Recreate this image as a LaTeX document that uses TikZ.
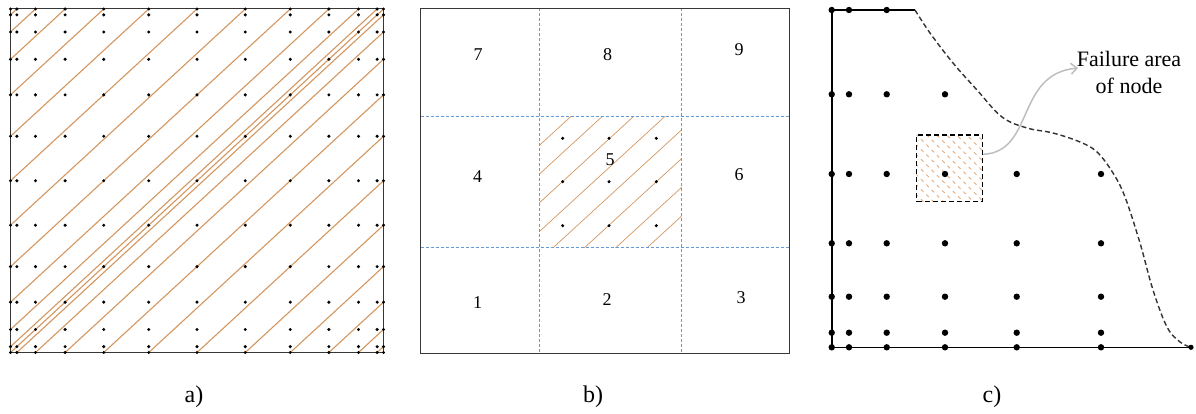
\documentclass[tikz,border=0pt]{standalone}
\usepackage{fontspec}
\setmainfont{Liberation Serif}
\usetikzlibrary{arrows.meta}
\definecolor{hatchc}{RGB}{212,150,95}
\definecolor{hatchlight}{RGB}{228,172,125}
\definecolor{gridblue}{RGB}{100,155,215}
\definecolor{boxgray}{RGB}{55,55,55}
\definecolor{curvegray}{RGB}{50,50,50}
\definecolor{arrowgray}{RGB}{190,190,190}
\begin{document}
\begin{tikzpicture}[x=1pt,y=-1pt,
  frame/.style={draw=boxgray,line width=1pt},
  hatchline/.style={draw=hatchc,line width=1.1pt},
  hatchthin/.style={draw=hatchc,line width=0.7pt},
  hatchdash/.style={draw=hatchlight,line width=0.9pt,dash pattern=on 3.5pt off 4pt},
  bluedash/.style={draw=gridblue,line width=0.8pt,dash pattern=on 3pt off 2pt},
  axisline/.style={draw=black,line width=1.6pt},
  failcurve/.style={draw=curvegray,line width=1.4pt,dash pattern=on 5pt off 3pt},
  numlabel/.style={font=\fontsize{18}{20}\selectfont,inner sep=0pt},
  caplabel/.style={font=\fontsize{24}{28}\selectfont,inner sep=0pt},
  dotsmall/.style={fill=black},
  pointer/.style={draw=arrowgray,line width=1.5pt,-{Straight Barb[length=6pt,width=11pt]}}]
\useasboundingbox (0,0) rectangle (1196,414);

% ---------------- panel a ----------------
\def\ax{10.5}\def\ay{9}\def\aw{373}\def\ah{343.5}
\foreach \k in {1,...,12}{
  \pgfmathsetmacro\u{(1-cos(\k*15))/2}
  \draw[hatchline] ({\ax+\aw*\u},\ay) -- (\ax,{\ay+\ah*\u});
}
\foreach \k in {1,...,11}{
  \pgfmathsetmacro\u{(1-cos(\k*15))/2}
  \draw[hatchline] ({\ax+\aw},{\ay+\ah*\u}) -- ({\ax+\aw*\u},{\ay+\ah});
}
\draw[frame] (\ax,\ay) rectangle ++(\aw,\ah);
\foreach \i in {0,...,12}{
  \foreach \j in {0,...,12}{
    \fill[dotsmall] ({\ax+\aw*(1-cos(\i*15))/2},{\ay+\ah*(1-cos(\j*15))/2}) circle (1.7);
  }
}
\node[caplabel] (capa) at (194,397) {a)};

% ---------------- panel b ----------------
\begin{scope}
  \clip (539.3,116.7) rectangle (681.7,247.3);
  \foreach \c in {1,...,8}{
    \pgfmathsetmacro\cc{0.22*\c}
    \draw[hatchthin] ({539.3+142.4*(\cc+1)},{116.7-130.6}) -- ({539.3-142.4},{116.7+130.6*(\cc+1)});
  }
\end{scope}
\draw[bluedash] (539.3,8.5) -- (539.3,353);
\draw[bluedash] (681.7,8.5) -- (681.7,353);
\draw[bluedash] (420.5,116.7) -- (789,116.7);
\draw[bluedash] (420.5,247.3) -- (789,247.3);
\draw[frame] (420.5,8.5) rectangle (789,353);
\foreach \x in {562.7,609,656.3}{
  \foreach \y in {138.3,181.7,225.7}{
    \fill[dotsmall] (\x,\y) circle (1.7);
  }
}
\node[numlabel] (n7) at (478,55) {7};
\node[numlabel] (n8) at (607.7,55) {8};
\node[numlabel] (n9) at (739,50) {9};
\node[numlabel] (n4) at (477.7,176.7) {4};
\node[numlabel] (n5) at (610,160) {5};
\node[numlabel] (n6) at (739,175) {6};
\node[numlabel] (n1) at (477.7,303) {1};
\node[numlabel] (n2) at (607,300) {2};
\node[numlabel] (n3) at (741,298) {3};
\node[caplabel] (capb) at (593,397) {b)};

% ---------------- panel c ----------------
\begin{scope}
  \clip (916.7,135) rectangle (982.3,201.7);
  \foreach \d in {-9,...,9}{
    \draw[hatchdash] (846.7,{135+10*\d-70}) -- (1056.7,{135+10*\d+140});
  }
\end{scope}
\node[draw=black,line width=1.4pt,dash pattern=on 5pt off 3pt,minimum width=65.6pt,minimum height=66.7pt,inner sep=0pt] (fail) at (949.5,168.35) {};
\draw[axisline] (915,10) -- (831.7,10) -- (831.7,347.3) -- (1191,347.3);
\draw[failcurve] plot[smooth,tension=0.6] coordinates {(915,10) (930,33) (953,63) (977,90) (1002,117) (1027,128) (1053,133) (1080,142) (1097,152) (1113,173) (1125,197) (1140,243) (1153,290) (1167,327) (1180,342) (1191,347.3)};
% dots
\foreach \x in {831.7,849,886.7}{\fill[dotsmall] (\x,10) circle (3.2);}
\foreach \x in {831.7,849,886.7,945}{\fill[dotsmall] (\x,94.3) circle (3.2);}
\foreach \y in {174,243.3,296.7,332.7,347.3}{
  \foreach \x in {831.7,849,886.7,945,1016.7,1101}{
    \fill[dotsmall] (\x,\y) circle (3.2);
  }
}
\fill[dotsmall] (1191,347.3) circle (2.6);
\node[align=center,font=\fontsize{22}{27}\selectfont,inner sep=0pt] (flab) at (1129,72) {Failure area\\of node};
\coordinate (ptend) at (1078,68);
\draw[pointer] ([yshift=14pt]fail.east) .. controls (1035,152) and (1015,74) .. (ptend);
\node[caplabel] (capc) at (992,397) {c)};
\end{tikzpicture}
\end{document}
